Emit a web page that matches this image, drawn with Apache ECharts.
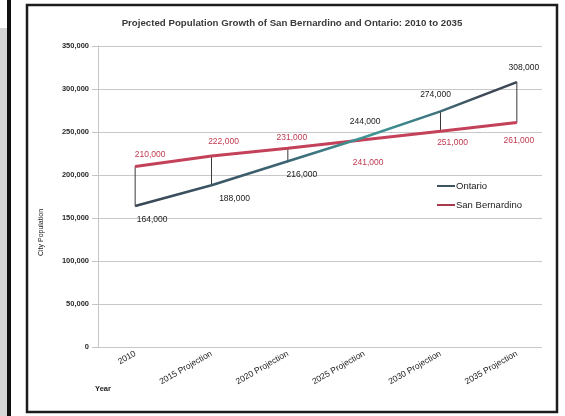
<!DOCTYPE html>
<html>
<head>
<meta charset="utf-8">
<script src="https://cdn.jsdelivr.net/npm/echarts@6/dist/echarts.min.js"></script>
<style>
  html, body { margin: 0; padding: 0; background: #fff; }
  #chart { width: 565px; height: 416px; }
</style>
</head>
<body>
<div id="chart"></div>
<script>
// Categories and projected populations
const years = ['2010', '2015 Projection', '2020 Projection', '2025 Projection', '2030 Projection', '2035 Projection'];
const ontario = [164000, 188000, 216000, 244000, 274000, 308000];
const sanBernardino = [210000, 222000, 231000, 241000, 251000, 261000];
const yTicks = { min: 0, max: 350000, interval: 50000 };

// Label placement (offset of each label centre from its point)
const ontarioLabelOffset = [[17, 14], [23, 13], [14, 13], [1, -16], [-5, -17], [7, -14]];
const sanBLabelOffset = [[15, -12], [12, -14], [4, -11], [4, 23], [12, 12], [2, 18]];

const fmt = v => v.toLocaleString('en-US');
const FONT = 'Liberation Sans';

function labelled(values, offsets, color) {
  return values.map((v, i) => ({
    value: v,
    label: { show: true, position: 'inside', offset: offsets[i], formatter: fmt(v),
             color: color, fontSize: 8.5, fontFamily: FONT }
  }));
}

const chart = echarts.init(document.getElementById('chart'), null, { renderer: 'canvas' });

chart.setOption({
  animation: false,
  backgroundColor: '#ffffff',
  textStyle: { fontFamily: FONT },
  title: {
    text: 'Projected Population Growth of San Bernardino and Ontario: 2010 to 2035',
    left: 287, top: 13, textAlign: 'center',
    textStyle: { fontSize: 9.7, fontWeight: 'bold', color: '#3a3a3a', fontFamily: FONT }
  },
  graphic: [
    { type: 'rect', z: -10, shape: { x: 0, y: 28, width: 7, height: 388 }, style: { fill: '#d6d6d6' } },
    { type: 'rect', z: -10, shape: { x: 7, y: 0, width: 4, height: 416 }, style: { fill: '#111' } },
    { type: 'rect', z: -10, shape: { x: 27, y: 5, width: 530, height: 407 },
      style: { fill: 'none', stroke: '#1c1c1c', lineWidth: 2.5 } }
  ],
  legend: {
    orient: 'vertical', left: 437, top: 181, itemGap: 9, padding: 0,
    itemWidth: 18, itemHeight: 2, icon: 'rect',
    textStyle: { fontSize: 9.5, color: '#222', fontFamily: FONT, padding: [0, 0, 0, -4] },
    data: [
      { name: 'Ontario', itemStyle: { color: '#3e5462' } },
      { name: 'San Bernardino', itemStyle: { color: '#a83a4e' } }
    ]
  },
  grid: [
    { left: 98, right: 23, top: 46, bottom: 69 },
    { left: 97, right: 10, top: 46, bottom: 69 }
  ],
  xAxis: [
    { type: 'category', gridIndex: 0, data: years, show: false },
    {
      type: 'category', gridIndex: 1, data: years, boundaryGap: true,
      axisLine: { show: false }, axisTick: { show: false },
      axisLabel: { rotate: 30, fontSize: 8.5, color: '#222', margin: 6, interval: 0, fontFamily: FONT },
      name: 'Year', nameLocation: 'start', nameGap: -6,
      nameTextStyle: { fontSize: 7.5, fontWeight: 'bold', color: '#222', align: 'center', verticalAlign: 'top',
                       padding: [38, 0, 0, 0], fontFamily: FONT }
    }
  ],
  yAxis: [
    {
      type: 'value', gridIndex: 0, min: yTicks.min, max: yTicks.max, interval: yTicks.interval,
      axisLine: { show: true, lineStyle: { color: '#c4c4c4' } },
      axisTick: { show: true, length: 6, lineStyle: { color: '#c4c4c4' } },
      splitLine: { show: true, lineStyle: { color: '#c8c8c8', width: 1 } },
      axisLabel: { formatter: fmt, fontSize: 7.5, fontWeight: 'bold', color: '#2a2a2a', margin: 9, fontFamily: FONT },
      name: 'City Population', nameLocation: 'middle', nameGap: 53,
      nameTextStyle: { fontSize: 7, color: '#222', padding: [0, 72, 0, 0], fontFamily: FONT }
    },
    {
      type: 'value', gridIndex: 1, min: yTicks.min, max: yTicks.max, interval: yTicks.interval,
      show: false, splitLine: { show: false }
    }
  ],
  series: [
    {
      // vertical high-low connectors between the two cities
      type: 'custom', xAxisIndex: 1, yAxisIndex: 1, z: 1,
      data: ontario.map((v, i) => [i, sanBernardino[i], v]),
      renderItem: function (params, api) {
        const a = api.coord([api.value(0), api.value(1)]);
        const b = api.coord([api.value(0), api.value(2)]);
        return { type: 'line', shape: { x1: a[0], y1: a[1], x2: b[0], y2: b[1] },
                 style: { stroke: '#3a3a3a', lineWidth: 1 } };
      },
      silent: true
    },
    {
      name: 'Ontario', type: 'line', xAxisIndex: 1, yAxisIndex: 1, z: 3,
      symbol: 'circle', symbolSize: 1, showSymbol: true,
      itemStyle: { color: '#3e5462' },
      lineStyle: {
        width: 2.6,
        color: new echarts.graphic.LinearGradient(0, 0, 1, 0, [
          { offset: 0, color: '#3a4554' },
          { offset: 0.4, color: '#3d6574' },
          { offset: 0.6, color: '#3f9896' },
          { offset: 0.76, color: '#3f7a84' },
          { offset: 0.9, color: '#3e4a58' },
          { offset: 1, color: '#3d4554' }
        ])
      },
      data: labelled(ontario, ontarioLabelOffset, '#1a1a1a')
    },
    {
      name: 'San Bernardino', type: 'line', xAxisIndex: 1, yAxisIndex: 1, z: 2,
      symbol: 'circle', symbolSize: 1, showSymbol: true,
      itemStyle: { color: '#c4415a' },
      lineStyle: { width: 3, color: '#c4415a' },
      data: labelled(sanBernardino, sanBLabelOffset, '#c0394f')
    }
  ]
});
</script>
</body>
</html>
